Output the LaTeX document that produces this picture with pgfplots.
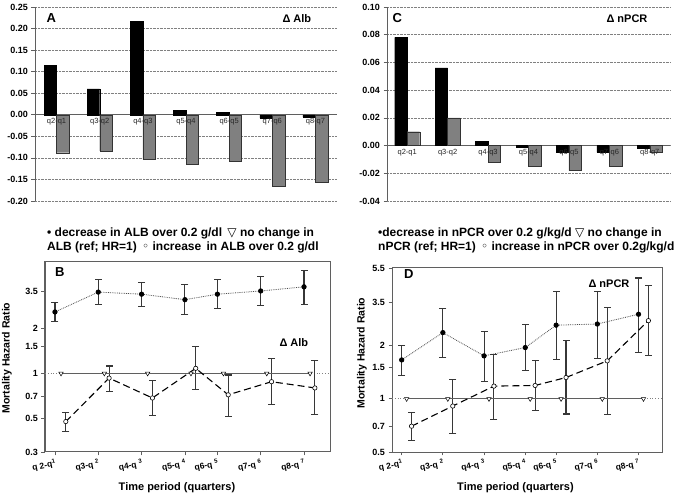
\documentclass[border=0pt]{standalone}
\usepackage{fontspec}
\setmainfont{Liberation Sans}
\newfontfamily\symf{DejaVu Sans}
\usepackage{pgfplots}
\pgfplotsset{compat=1.18}
\definecolor{barg}{RGB}{128,128,128}
\definecolor{axg}{RGB}{95,95,95}
\definecolor{errc}{RGB}{55,55,55}
\tikzset{catlab/.style={anchor=north, font=\fontsize{7.5}{8}\selectfont, text=black!85, yshift=-2.5pt, inner sep=1pt}}
\pgfplotsset{
  barax/.style={
    scale only axis, anchor=south west,
    axis y line*=left, axis x line*=middle,
    xmin=-0.5, xmax=6.5, xtick={0,1,2,3,4,5,6},
    xticklabels={},
    ymajorgrids, major grid style={densely dotted, gray, line width=0.7pt},
    axis line style={axg, line width=0.9pt},
    x tick style={draw=none}, y tick style={axg, line width=0.7pt},
    tick align=outside, major tick length=3.5pt,
    yticklabel style={font=\bfseries\fontsize{9}{9}\selectfont, /pgf/number format/fixed, /pgf/number format/fixed zerofill, /pgf/number format/precision=2},
    /pgf/number format/assume math mode=true,
    ybar=0pt, bar width=12.5pt,
  },
  hrax/.style={
    scale only axis, anchor=south west,
    tick align=outside, xtick pos=left, ytick pos=left,
    axis line style={axg, line width=1pt}, tick style={axg, line width=0.8pt},
    major tick length=3.5pt, minor tick length=0pt,
    yticklabel style={font=\bfseries\fontsize{9}{9}\selectfont},
    xticklabel style={font=\bfseries\fontsize{8.5}{9}\selectfont, rotate=11, anchor=north east, xshift=3pt},
    xtick={0,1,2,3,3.75,4.75,5.75},
    xticklabels={q 2-q\textsuperscript{1},q3-q \textsuperscript{2},q4-q \textsuperscript{3},q5-q \textsuperscript{4},q6-q \textsuperscript{5},q7-q \textsuperscript{6},q8-q \textsuperscript{7}},
    unbounded coords=jump, clip=false,
  },
  errb/.style={errc, line width=1.1pt, mark=-, mark size=3.5pt, mark options={solid, line width=1.1pt}},
  blk/.style={gray!60!black, densely dotted, line width=0.8pt, mark=*, mark size=2.2pt, mark options={solid, fill=black, draw=black}},
  opn/.style={black, dash pattern=on 7pt off 4pt, line width=1.1pt, mark=*, mark size=2.2pt, mark options={solid, fill=white, draw=black, line width=0.6pt}},
  refl/.style={axg, solid, line width=1pt, mark=triangle*, mark size=2.6pt, mark options={solid, fill=white, draw=black, line width=0.5pt, rotate=180}},
}
\begin{document}
\begin{tikzpicture}[x=1pt,y=1pt]
\path[use as bounding box] (0,0) rectangle (675,498);

% Panel A
\begin{axis}[barax, at={(35pt,297pt)}, width=302pt, height=194pt,
  ymin=-0.2, ymax=0.25, ytick={-0.2,-0.15,-0.1,-0.05,0,0.05,0.1,0.15,0.2,0.25}]
\addplot[fill=black, draw=black] coordinates {(0,0.115) (1,0.060) (2,0.216) (3,0.011) (4,0.006) (5,-0.008) (6,-0.005)};
\addplot[fill=barg, draw=black!80, line width=0.4pt] coordinates {(0,-0.088) (1,-0.084) (2,-0.104) (3,-0.114) (4,-0.107) (5,-0.165) (6,-0.157)};
\node[catlab] at (axis cs:0,0) {q2-q1};
\node[catlab] at (axis cs:1,0) {q3-q2};
\node[catlab] at (axis cs:2,0) {q4-q3};
\node[catlab] at (axis cs:3,0) {q5-q4};
\node[catlab] at (axis cs:4,0) {q6-q5};
\node[catlab] at (axis cs:5,0) {q7-q6};
\node[catlab] at (axis cs:6,0) {q8-q7};
\end{axis}

% Panel C
\begin{axis}[barax, at={(387pt,297pt)}, width=283pt, height=194pt,
  ymin=-0.04, ymax=0.10, ytick={-0.04,-0.02,0,0.02,0.04,0.06,0.08,0.10}]
\addplot[fill=black, draw=black] coordinates {(0,0.078) (1,0.056) (2,0.003) (3,-0.001) (4,-0.005) (5,-0.005) (6,-0.002)};
\addplot[fill=barg, draw=black!80, line width=0.4pt] coordinates {(0,0.010) (1,0.020) (2,-0.012) (3,-0.015) (4,-0.018) (5,-0.015) (6,-0.005)};
\node[catlab] at (axis cs:0,0) {q2-q1};
\node[catlab] at (axis cs:1,0) {q3-q2};
\node[catlab] at (axis cs:2,0) {q4-q3};
\node[catlab] at (axis cs:3,0) {q5-q4};
\node[catlab] at (axis cs:4,0) {q6-q5};
\node[catlab] at (axis cs:5,0) {q7-q6};
\node[catlab] at (axis cs:6,0) {q8-q7};
\end{axis}

% Panel B
\begin{axis}[ymode=log, hrax, at={(45pt,46pt)}, width=285pt, height=190pt,
  ymin=0.3, ymax=5.5, xmin=-0.23, xmax=6.35,
  ytick={0.3,0.5,0.7,1,1.5,2,3.5}, yticklabels={0.3,0.5,0.7,1,1.5,2,3.5}]
\addplot[gray, dotted, line width=0.8pt] coordinates {(-0.23,1) (6.35,1)};
\addplot[errb] coordinates {(0,2.20) (0,2.94) (0,nan) (1,2.87) (1,4.23) (1,nan) (2,2.80) (2,4.04) (2,nan) (3,2.47) (3,3.88) (3,nan) (3.75,2.69) (3.75,4.18) (3.75,nan) (4.75,2.81) (4.75,4.40) (4.75,nan) (5.75,2.87) (5.75,4.86)};
\addplot[errb] coordinates {(0.25,0.41) (0.25,0.553) (0.25,nan) (1.25,0.76) (1.25,1.12) (1.25,nan) (2.25,0.526) (2.25,0.896) (2.25,nan) (3.25,0.786) (3.25,1.50) (3.25,nan) (4,0.52) (4,0.975) (4,nan) (5,0.62) (5,1.25) (5,nan) (6,0.53) (6,1.21)};
\addplot[refl] coordinates {(0.14,1) (1.14,1) (2.14,1) (3.14,1) (3.89,1) (4.89,1) (5.89,1)};
\addplot[blk] coordinates {(0,2.56) (1,3.47) (2,3.36) (3,3.09) (3.75,3.36) (4.75,3.53) (5.75,3.76)};
\addplot[opn] coordinates {(0.25,0.478) (1.25,0.93) (2.25,0.686) (3.25,1.08) (4,0.72) (5,0.88) (6,0.80)};
\end{axis}

% Panel D
\begin{axis}[ymode=log, hrax, at={(392pt,46pt)}, width=270pt, height=184pt,
  ymin=0.5, ymax=5.5, xmin=-0.235, xmax=6.32,
  ytick={0.5,0.7,1,1.5,2,3.5,5.5}, yticklabels={0.5,0.7,1,1.5,2,3.5,5.5}]
\addplot[gray, dotted, line width=0.8pt] coordinates {(-0.235,1) (6.32,1)};
\addplot[errb] coordinates {(0,1.35) (0,2.01) (0,nan) (1,1.72) (1,3.23) (1,nan) (2,1.26) (2,2.40) (2,nan) (3,1.44) (3,2.62) (3,nan) (3.75,1.66) (3.75,4.03) (3.75,nan) (4.75,1.70) (4.75,4.03) (4.75,nan) (5.75,1.82) (5.75,4.83)};
\addplot[errb] coordinates {(0.24,0.58) (0.24,0.84) (0.24,nan) (1.24,0.64) (1.24,1.28) (1.24,nan) (2.24,0.76) (2.24,1.79) (2.24,nan) (3.24,0.855) (3.24,1.64) (3.24,nan) (3.99,0.82) (3.99,2.13) (3.99,nan) (4.99,0.815) (4.99,3.29) (4.99,nan) (5.99,1.75) (5.99,4.36)};
\addplot[refl] coordinates {(0.12,1) (1.12,1) (2.12,1) (3.12,1) (3.87,1) (4.87,1) (5.87,1)};
\addplot[blk] coordinates {(0,1.66) (1,2.37) (2,1.75) (3,1.95) (3.75,2.61) (4.75,2.65) (5.75,3.01)};
\addplot[opn] coordinates {(0.24,0.70) (1.24,0.91) (2.24,1.18) (3.24,1.19) (3.99,1.32) (4.99,1.64) (5.99,2.77)};
\end{axis}

% panel letters and titles
\node[anchor=base west, font=\bfseries\fontsize{13}{14}\selectfont] at (43,475) {A};
\node[anchor=base west, font=\bfseries\fontsize{11}{12}\selectfont] at (279,475) {Δ Alb};
\node[anchor=base west, font=\bfseries\fontsize{13}{14}\selectfont] at (389,475) {C};
\node[anchor=base west, font=\bfseries\fontsize{11}{12}\selectfont] at (603,475) {Δ nPCR};
\node[anchor=base west, font=\bfseries\fontsize{13}{14}\selectfont] at (51.5,221) {B};
\node[anchor=base west, font=\bfseries\fontsize{11}{12}\selectfont] at (276,151) {Δ Alb};
\node[anchor=base west, font=\bfseries\fontsize{13}{14}\selectfont] at (400.5,219) {D};
\node[anchor=base west, font=\bfseries\fontsize{11}{12}\selectfont] at (585,210) {Δ nPCR};

% legends
\node[anchor=base west, inner sep=0, font=\bfseries\fontsize{12}{13}\selectfont] at (47,261) {• decrease in ALB over 0.2 g/dl \,{\symf\mdseries ▽} no change in};
\node[anchor=base west, inner sep=0, font=\bfseries\fontsize{12}{13}\selectfont] at (47,247) {ALB (ref; HR=1) \,{\symf\mdseries ◦} increase \,in ALB over 0.2 g/dl};
\node[anchor=base west, inner sep=0, font=\bfseries\fontsize{12}{13}\selectfont] at (378,261) {•decrease in nPCR over 0.2 g/kg/d {\symf\mdseries ▽} no change in};
\node[anchor=base west, inner sep=0, font=\bfseries\fontsize{12}{13}\selectfont] at (378,247) {nPCR (ref; HR=1) \,{\symf\mdseries ◦} increase in nPCR over 0.2g/kg/d};

% axis labels
\node[rotate=90, font=\bfseries\fontsize{10.5}{12}\selectfont] at (7,140) {Mortality Hazard Ratio};
\node[rotate=90, font=\bfseries\fontsize{10.5}{12}\selectfont] at (362,145) {Mortality Hazard Ratio};
\node[font=\bfseries\fontsize{11}{12}\selectfont] at (177,10) {Time period (quarters)};
\node[font=\bfseries\fontsize{11}{12}\selectfont] at (515.5,10) {Time period (quarters)};
\end{tikzpicture}
\end{document}
